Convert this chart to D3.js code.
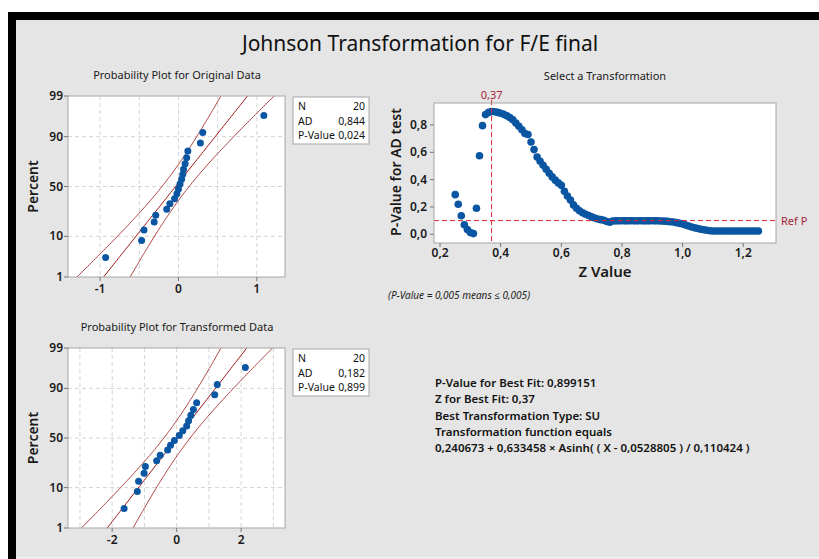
<!DOCTYPE html>
<html>
<head>
<meta charset="utf-8">
<script src="https://cdn.jsdelivr.net/npm/d3@7"></script>
<style>
body { margin: 0; background: #fff; }
svg { display: block; font-family: "Noto Sans", "Open Sans", sans-serif; }
.grid line { stroke: #d4d4d4; stroke-dasharray: 4,3; }
.frame { fill: none; stroke: #a6a6a6; }
.tick-lab { font-size: 12px; fill: #1a1a1a; font-weight: 600; }
.ax-title { font-size: 14px; fill: #1a1a1a; font-weight: 600; }
.sub { font-size: 11px; fill: #1a1a1a; }
</style>
</head>
<body>
<svg width="819" height="559"></svg>
<script>
// plotting positions (percent) for n = 20
var percents = [3.4, 8.3, 13.2, 18.1, 23.0, 27.9, 32.8, 37.7, 42.6, 47.5,
                52.5, 57.4, 62.3, 67.2, 72.1, 77.0, 81.9, 86.8, 91.7, 96.6];
var originalData = [-0.93, -0.47, -0.44, -0.31, -0.29, -0.15, -0.11, -0.05, -0.02, 0.00,
                    0.02, 0.04, 0.055, 0.065, 0.085, 0.105, 0.12, 0.28, 0.31, 1.09];
var transformedData = [-1.63, -1.22, -1.18, -1.01, -0.97, -0.62, -0.51, -0.28, -0.19, -0.07,
                       0.08, 0.19, 0.31, 0.37, 0.44, 0.52, 0.62, 1.18, 1.26, 2.13];
var fitMean = [-0.037, 0.01];
var fitStdev = [0.395, 0.93];
var sampleN = 20;
var percentTicks = [1, 10, 50, 90, 99];

var origStats = [["N", "20"], ["AD", "0,844"], ["P-Value", "0,024"]];
var transStats = [["N", "20"], ["AD", "0,182"], ["P-Value", "0,899"]];

// Select a Transformation: z value and AD p-value
var zValues = [0.25, 0.26, 0.27, 0.28, 0.29, 0.30, 0.31, 0.32, 0.33, 0.34,
               0.35, 0.36, 0.37, 0.38, 0.39, 0.40, 0.41, 0.42, 0.43, 0.44,
               0.45, 0.46, 0.47, 0.48, 0.49, 0.50, 0.51, 0.52, 0.53, 0.54,
               0.55, 0.56, 0.57, 0.58, 0.59, 0.60, 0.61, 0.62, 0.63, 0.64,
               0.65, 0.66, 0.67, 0.68, 0.69, 0.70, 0.71, 0.72, 0.73, 0.74,
               0.75, 0.76, 0.77, 0.78, 0.79, 0.80, 0.81, 0.82, 0.83, 0.84,
               0.85, 0.86, 0.87, 0.88, 0.89, 0.90, 0.91, 0.92, 0.93, 0.94,
               0.95, 0.96, 0.97, 0.98, 0.99, 1.00, 1.01, 1.02, 1.03, 1.04,
               1.05, 1.06, 1.07, 1.08, 1.09, 1.10, 1.11, 1.12, 1.13, 1.14,
               1.15, 1.16, 1.17, 1.18, 1.19, 1.20, 1.21, 1.22, 1.23, 1.24, 1.25];
var pValues = [0.29, 0.22, 0.135, 0.07, 0.035, 0.012, 0.005, 0.19, 0.575, 0.795,
               0.876, 0.892, 0.899, 0.897, 0.892, 0.886, 0.878, 0.868, 0.855, 0.838,
               0.815, 0.79, 0.765, 0.738, 0.73, 0.675, 0.62, 0.565, 0.535, 0.505,
               0.476, 0.447, 0.42, 0.396, 0.376, 0.358, 0.315, 0.28, 0.25, 0.215,
               0.19, 0.172, 0.158, 0.147, 0.137, 0.127, 0.119, 0.112, 0.107, 0.103,
               0.093, 0.088, 0.097, 0.098, 0.098, 0.099, 0.098, 0.098, 0.099, 0.098,
               0.098, 0.099, 0.098, 0.098, 0.098, 0.099, 0.098, 0.098, 0.097, 0.096,
               0.094, 0.092, 0.09, 0.085, 0.08, 0.075, 0.067, 0.06, 0.053, 0.047,
               0.042, 0.037, 0.033, 0.029, 0.026, 0.024, 0.024, 0.024, 0.024, 0.024,
               0.024, 0.024, 0.024, 0.024, 0.024, 0.024, 0.024, 0.024, 0.024, 0.024, 0.024];
var bestZ = 0.37;
var refP = 0.1;
var zTicks = [0.2, 0.4, 0.6, 0.8, 1.0, 1.2];
var pTicks = [0.0, 0.2, 0.4, 0.6, 0.8];

var summaryLines = ["P-Value for Best Fit: 0,899151",
                    "Z for Best Fit: 0,37",
                    "Best Transformation Type: SU",
                    "Transformation function equals",
                    "0,240673 + 0,633458 \u00d7 Asinh( ( X - 0,0528805 ) / 0,110424 )"];

var comma = function(v, digits) { return d3.format("." + digits + "f")(v).replace(".", ","); };

// inverse normal cdf (Acklam)
function probit(p) {
  var a = [-3.969683028665376e+01, 2.209460984245205e+02, -2.759285104469687e+02, 1.383577518672690e+02, -3.066479806614716e+01, 2.506628277459239e+00],
      b = [-5.447609879822406e+01, 1.615858368580409e+02, -1.556989798598866e+02, 6.680131188771972e+01, -1.328068155288572e+01],
      c = [-7.784894002430293e-03, -3.223964580411365e-01, -2.400758277161838e+00, -2.549732539343734e+00, 4.374664141464968e+00, 2.938163982698783e+00],
      d = [7.784695709041462e-03, 3.224671290700398e-01, 2.445134137142996e+00, 3.754408661907416e+00];
  var pl = 0.02425, q, r;
  if (p < pl) {
    q = Math.sqrt(-2 * Math.log(p));
    return (((((c[0]*q+c[1])*q+c[2])*q+c[3])*q+c[4])*q+c[5]) / ((((d[0]*q+d[1])*q+d[2])*q+d[3])*q+1);
  }
  if (p > 1 - pl) {
    q = Math.sqrt(-2 * Math.log(1 - p));
    return -(((((c[0]*q+c[1])*q+c[2])*q+c[3])*q+c[4])*q+c[5]) / ((((d[0]*q+d[1])*q+d[2])*q+d[3])*q+1);
  }
  q = p - 0.5; r = q * q;
  return (((((a[0]*r+a[1])*r+a[2])*r+a[3])*r+a[4])*r+a[5])*q / (((((b[0]*r+b[1])*r+b[2])*r+b[3])*r+b[4])*r+1);
}

var svg = d3.select("svg");

// window frame + gray panel
svg.append("rect").attr("x", 8).attr("y", 12).attr("width", 811).attr("height", 547).attr("fill", "#000");
svg.append("rect").attr("x", 16).attr("y", 20).attr("width", 803).attr("height", 539).attr("fill", "#e5e5e5");
svg.append("line").attr("x1", 16).attr("x2", 819).attr("y1", 557.5).attr("y2", 557.5).attr("stroke", "#f3f3f3");

svg.append("text")
   .attr("x", 420).attr("y", 51)
   .attr("text-anchor", "middle")
   .style("font-size", "21px").style("fill", "#111")
   .text("Johnson Transformation for F/E final");

function probPlot(opt) {
  var x = d3.scaleLinear().domain(opt.xDomain).range([68, 285]);
  var yz = d3.scaleLinear().domain([probit(0.01), probit(0.99)]).range([opt.bottom, opt.top]);
  var y = function(p) { return yz(probit(p / 100)); };
  var g = svg.append("g");
  var clipId = "clip" + opt.id;

  g.append("text").attr("class", "sub")
   .attr("x", 177).attr("y", opt.top - 17).attr("text-anchor", "middle")
   .text(opt.title);

  g.append("rect").attr("x", 68).attr("y", opt.top).attr("width", 217).attr("height", opt.bottom - opt.top)
   .attr("fill", "#fff");
  g.append("clipPath").attr("id", clipId)
   .append("rect").attr("x", 68).attr("y", opt.top).attr("width", 217).attr("height", opt.bottom - opt.top);

  var grid = g.append("g").attr("class", "grid");
  grid.selectAll(".gx").data(opt.xGrid).enter().append("line")
      .attr("x1", x).attr("x2", x).attr("y1", opt.top).attr("y2", opt.bottom);
  grid.selectAll(".gy").data([10, 50, 90]).enter().append("line")
      .attr("x1", 68).attr("x2", 285).attr("y1", y).attr("y2", y);

  // fitted line and 95% CI
  var zs = d3.range(-2.5, 2.51, 0.05);
  var m = opt.mean, s = opt.sd;
  var hw = function(z) { return 1.96 * s * Math.sqrt(1 / sampleN + z * z / (2 * (sampleN - 1))); };
  var line = d3.line().x(function(d) { return x(d[0]); }).y(function(d) { return yz(d[1]); });
  var fits = [
    {pts: zs.map(function(z) { return [m + z * s - hw(z), z]; }), c: "#b24444"},
    {pts: zs.map(function(z) { return [m + z * s + hw(z), z]; }), c: "#b24444"},
    {pts: zs.map(function(z) { return [m + z * s, z]; }), c: "#9e1414"}
  ];
  g.append("g").attr("clip-path", "url(#" + clipId + ")")
   .selectAll("path").data(fits).enter().append("path")
   .attr("d", function(d) { return line(d.pts); })
   .attr("fill", "none").attr("stroke", function(d) { return d.c; }).attr("stroke-width", 1);

  g.selectAll("circle").data(opt.data).enter().append("circle")
   .attr("cx", function(d) { return x(d); })
   .attr("cy", function(d, i) { return y(percents[i]); })
   .attr("r", 3.5).attr("fill", "#0b56a3");

  g.append("rect").attr("class", "frame").attr("x", 68).attr("y", opt.top).attr("width", 217).attr("height", opt.bottom - opt.top);

  // y axis
  g.selectAll(".yt").data(percentTicks).enter().append("line")
   .attr("x1", 64).attr("x2", 68).attr("y1", y).attr("y2", y).attr("stroke", "#777");
  g.selectAll(".yl").data(percentTicks).enter().append("text").attr("class", "tick-lab")
   .attr("x", 63).attr("y", function(d) { return y(d) + 4; }).attr("text-anchor", "end")
   .text(function(d) { return d; });
  // x axis
  g.selectAll(".xt").data(opt.xTicks).enter().append("line")
   .attr("x1", x).attr("x2", x).attr("y1", opt.bottom).attr("y2", opt.bottom + 4).attr("stroke", "#777");
  g.selectAll(".xl").data(opt.xTicks).enter().append("text").attr("class", "tick-lab")
   .attr("x", x).attr("y", opt.bottom + 16).attr("text-anchor", "middle")
   .text(function(d) { return d; });

  g.append("text").attr("class", "ax-title")
   .attr("transform", "translate(38," + ((opt.top + opt.bottom) / 2) + ") rotate(-90)")
   .attr("text-anchor", "middle").text("Percent");

  // stats box
  var box = g.append("g").attr("transform", "translate(293," + (opt.top + 1) + ")");
  box.append("rect").attr("width", 76).attr("height", 47).attr("fill", "#fff").attr("stroke", "#a6a6a6");
  box.selectAll(".sl").data(opt.stats).enter().append("text")
     .attr("x", 5).attr("y", function(d, i) { return 13 + i * 14.5; })
     .style("font-size", "10.5px").style("fill", "#111").text(function(d) { return d[0]; });
  box.selectAll(".sv").data(opt.stats).enter().append("text")
     .attr("x", 72).attr("y", function(d, i) { return 13 + i * 14.5; }).attr("text-anchor", "end")
     .style("font-size", "10.5px").style("fill", "#111").text(function(d) { return d[1]; });
}

probPlot({id: 1, title: "Probability Plot for Original Data", top: 96, bottom: 277,
          xDomain: [-1.41, 1.36], xTicks: [-1, 0, 1], xGrid: [-1, -0.5, 0, 0.5, 1],
          data: originalData, mean: fitMean[0], sd: fitStdev[0], stats: origStats});
probPlot({id: 2, title: "Probability Plot for Transformed Data", top: 348, bottom: 528,
          xDomain: [-3.37, 3.36], xTicks: [-2, 0, 2], xGrid: [-3, -2, -1, 0, 1, 2, 3],
          data: transformedData, mean: fitMean[1], sd: fitStdev[1], stats: transStats});

// Select a Transformation
var tx = d3.scaleLinear().domain([0.18, 1.308]).range([434, 776]);
var ty = d3.scaleLinear().domain([-0.064, 0.961]).range([243, 103]);
var t = svg.append("g");

t.append("text").attr("class", "sub").attr("x", 605).attr("y", 80).attr("text-anchor", "middle")
 .text("Select a Transformation");
t.append("rect").attr("x", 434).attr("y", 103).attr("width", 342).attr("height", 140).attr("fill", "#fff");

t.selectAll("circle").data(zValues).enter().append("circle")
 .attr("cx", function(d) { return tx(d); })
 .attr("cy", function(d, i) { return ty(pValues[i]); })
 .attr("r", 3.8).attr("fill", "#0b56a3");

t.append("line").attr("x1", 434).attr("x2", 776).attr("y1", ty(refP)).attr("y2", ty(refP))
 .attr("stroke", "#d9262c").attr("stroke-dasharray", "5,3");
t.append("line").attr("x1", tx(bestZ)).attr("x2", tx(bestZ)).attr("y1", 100).attr("y2", 243)
 .attr("stroke", "#d9262c").attr("stroke-dasharray", "5,3");

t.append("rect").attr("class", "frame").attr("x", 434).attr("y", 103).attr("width", 342).attr("height", 140);

t.selectAll(".xt").data(zTicks).enter().append("line")
 .attr("x1", tx).attr("x2", tx).attr("y1", 243).attr("y2", 247).attr("stroke", "#777");
t.selectAll(".xl").data(zTicks).enter().append("text").attr("class", "tick-lab")
 .attr("x", tx).attr("y", 257).attr("text-anchor", "middle")
 .text(function(d) { return comma(d, 1); });
t.selectAll(".yt").data(pTicks).enter().append("line")
 .attr("x1", 430).attr("x2", 434).attr("y1", ty).attr("y2", ty).attr("stroke", "#777");
t.selectAll(".yl").data(pTicks).enter().append("text").attr("class", "tick-lab")
 .attr("x", 427).attr("y", function(d) { return ty(d) + 4; }).attr("text-anchor", "end")
 .text(function(d) { return comma(d, 1); });

t.append("text").attr("class", "ax-title").attr("x", 605).attr("y", 277).attr("text-anchor", "middle")
 .style("font-size", "15px").text("Z Value");
t.append("text").attr("class", "ax-title")
 .attr("transform", "translate(401,172) rotate(-90)").attr("text-anchor", "middle")
 .text("P-Value for AD test");

t.append("text").attr("x", tx(bestZ)).attr("y", 99).attr("text-anchor", "middle")
 .style("font-size", "11px").style("fill", "#a3263b").text(comma(bestZ, 2));
t.append("text").attr("x", 781).attr("y", ty(refP) + 4)
 .style("font-size", "11px").style("fill", "#a3263b").text("Ref P");

t.append("text").attr("x", 388).attr("y", 299)
 .style("font-size", "10px").style("font-style", "italic").style("fill", "#222")
 .text("(P-Value = 0,005 means \u2264 0,005)");

svg.append("g").selectAll("text").data(summaryLines).enter().append("text")
   .attr("x", 435).attr("y", function(d, i) { return 387 + i * 16.3; })
   .style("font-size", "11.5px").style("font-weight", "600").style("fill", "#111")
   .text(function(d) { return d; });
</script>
</body>
</html>
